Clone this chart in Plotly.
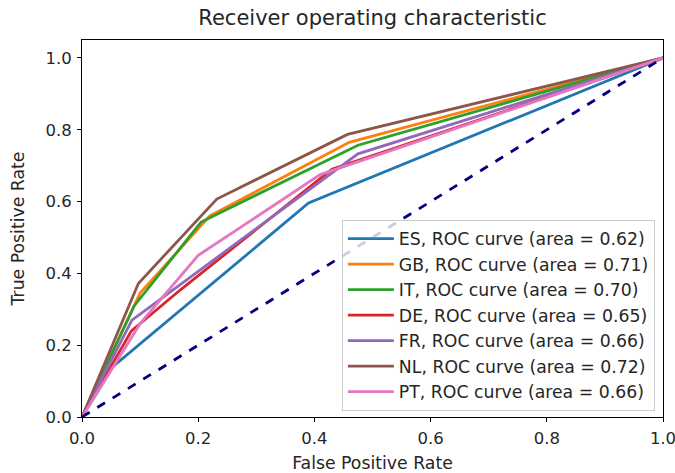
import plotly.graph_objects as go

# ROC curve vertices per country (false positive rate, true positive rate)
countries = ["ES", "GB", "IT", "DE", "FR", "NL", "PT"]
areas = [0.62, 0.71, 0.70, 0.65, 0.66, 0.72, 0.66]
fpr = {
    "ES": [0.0, 0.053, 0.39, 1.0],
    "GB": [0.0, 0.10, 0.22, 0.46, 1.0],
    "IT": [0.0, 0.09, 0.205, 0.475, 1.0],
    "DE": [0.0, 0.085, 0.17, 0.43, 1.0],
    "FR": [0.0, 0.086, 0.475, 1.0],
    "NL": [0.0, 0.097, 0.232, 0.457, 1.0],
    "PT": [0.0, 0.10, 0.20, 0.41, 1.0],
}
tpr = {
    "ES": [0.0, 0.14, 0.596, 1.0],
    "GB": [0.0, 0.345, 0.56, 0.765, 1.0],
    "IT": [0.0, 0.31, 0.543, 0.757, 1.0],
    "DE": [0.0, 0.24, 0.355, 0.69, 1.0],
    "FR": [0.0, 0.27, 0.733, 1.0],
    "NL": [0.0, 0.372, 0.607, 0.787, 1.0],
    "PT": [0.0, 0.26, 0.45, 0.675, 1.0],
}
colors = ["#1f77b4", "#ff7f0e", "#2ca02c", "#d62728", "#9467bd", "#8c564b", "#e377c2"]

chance_x = [0.0, 1.0]
chance_y = [0.0, 1.0]

font = "DejaVu Sans, Verdana, sans-serif"
txt = "#262626"

fig = go.Figure()
for i, c in enumerate(countries):
    fig.add_trace(go.Scatter(
        x=fpr[c], y=tpr[c], mode="lines",
        line=dict(color=colors[i], width=2.8),
        name=f"{c}, ROC curve (area = {areas[i]:.2f})",
        legendgroup=c,
    ))

fig.add_trace(go.Scatter(
    x=chance_x, y=chance_y, mode="lines",
    line=dict(color="navy", width=2.8, dash="dash"),
    showlegend=False,
))

axis_common = dict(
    showgrid=False, zeroline=False, automargin=False,
    showline=True, linecolor="black", linewidth=1, mirror=True,
    ticks="outside", ticklen=4, tickwidth=1, tickcolor="black",
    tickfont=dict(family=font, size=16.5, color=txt),
    tickformat=".1f", ticklabeloverflow="allow", ticklabelstandoff=2,
)

fig.update_layout(
    width=675, height=473,
    margin=dict(l=82, r=12, t=40, b=56),
    paper_bgcolor="white", plot_bgcolor="white",
    title=dict(text="Receiver operating characteristic", x=0.5, xref="paper",
               xanchor="center",
               y=0.962, yref="container", yanchor="middle",
               font=dict(family=font, size=21, color=txt)),
    xaxis=dict(range=[0, 1], dtick=0.2,
               title=dict(text="False Positive Rate", standoff=11,
                          font=dict(family=font, size=17.3, color=txt)),
               **axis_common),
    yaxis=dict(range=[0, 1.05], dtick=0.2,
               title=dict(text="True Positive Rate", standoff=16,
                          font=dict(family=font, size=17.3, color=txt)),
               **axis_common),
    legend=dict(
        x=0.986, y=0.016, xanchor="right", yanchor="bottom",
        bgcolor="rgba(255,255,255,0.8)", bordercolor="#cccccc", borderwidth=1,
        font=dict(family=font, size=17.3, color=txt),
        tracegroupgap=0, itemwidth=46,
    ),
    showlegend=True,
)

fig.write_html("out.html")
